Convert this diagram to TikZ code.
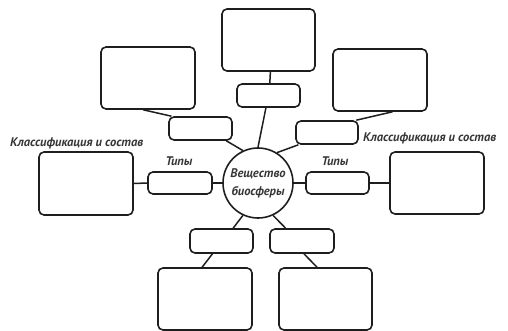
\documentclass[tikz,border=0pt]{standalone}
\usepackage{fontspec}
\setmainfont{PT Sans}
\usetikzlibrary{calc}
\definecolor{ink}{HTML}{1E1E1E}
\tikzset{
  box/.style={draw=ink, line width=1.6pt, rounded corners=5pt, inner sep=0pt},
  conn/.style={draw=ink, line width=1.5pt},
  lbl/.style={font=\fontsize{12.5}{13}\selectfont\bfseries\itshape, text=ink!90, inner sep=0pt},
}
\newcommand{\bx}[5]{\node[box, minimum width=#4-#2, minimum height=#5-#3] (#1) at ({(#2+#4)/2},{(#3+#5)/2}) {};}
\begin{document}
\begin{tikzpicture}[x=1pt,y=-1pt]
\useasboundingbox (0,0) rectangle (508,331);
\bx{T}{222}{9}{315}{71}
\bx{ts}{237}{84}{300}{107}
\bx{UL}{101}{47}{195}{109}
\bx{ULs}{169}{117}{232}{140}
\bx{UR}{333}{49}{427}{111}
\bx{URs}{296}{121}{358}{144}
\bx{L}{39}{152}{133}{215}
\bx{Ls}{148}{172}{212}{194}
\bx{R}{390}{152}{484}{214}
\bx{Rs}{306}{172}{369}{194}
\bx{BLs}{190}{229}{253}{253}
\bx{BL}{158}{268}{252}{330}
\bx{BRs}{270}{229}{334}{253}
\bx{BR}{279}{268}{372}{330}
\node[circle, draw=ink, line width=1.6pt, minimum size=70pt, inner sep=0pt] (c) at (258,183) {};
\node[lbl, anchor=base] (w1) at (258,177) {Вещество};
\node[lbl, anchor=base] (w2) at (258,195) {биосферы};
\node[lbl, anchor=base] (tl) at (179,165) {Типы};
\node[lbl, anchor=base] (tr) at (335,165) {Типы};
\node[lbl, anchor=base west] (kl) at (10,147) {Классификация и состав};
\node[lbl, anchor=base west] (kr) at (363,142) {Классификация и состав};
% connectors
\draw[conn] ($(T.south west)!0.52!(T.south east)$) -- ($(ts.north west)!0.52!(ts.north east)$);
\draw[conn] ($(ts.south west)!0.46!(ts.south east)$) -- (c.north);
\draw[conn] ($(UL.south west)!0.45!(UL.south east)$) -- ($(ULs.north west)!0.05!(ULs.north east)$);
\draw[conn] ($(ULs.south west)!0.9!(ULs.south east)$) -- (c.115);
\draw[conn] ($(URs.north west)!0.96!(URs.north east)$) -- ($(UR.south west)!0.63!(UR.south east)$);
\draw[conn] ($(URs.south west)!0.05!(URs.south east)$) -- (c.58);
\draw[conn] (L.east) -- (Ls.west);
\draw[conn] (Ls.east) -- (c.west);
\draw[conn] (c.east) -- (Rs.west);
\draw[conn] (Rs.east) -- (R.west);
\draw[conn] (c.245) -- ($(BLs.north west)!0.68!(BLs.north east)$);
\draw[conn] ($(BLs.south west)!0.36!(BLs.south east)$) -- ($(BL.north west)!0.47!(BL.north east)$);
\draw[conn] (c.295) -- ($(BRs.north west)!0.25!(BRs.north east)$);
\draw[conn] ($(BRs.south west)!0.53!(BRs.south east)$) -- ($(BR.north west)!0.41!(BR.north east)$);
\end{tikzpicture}
\end{document}
